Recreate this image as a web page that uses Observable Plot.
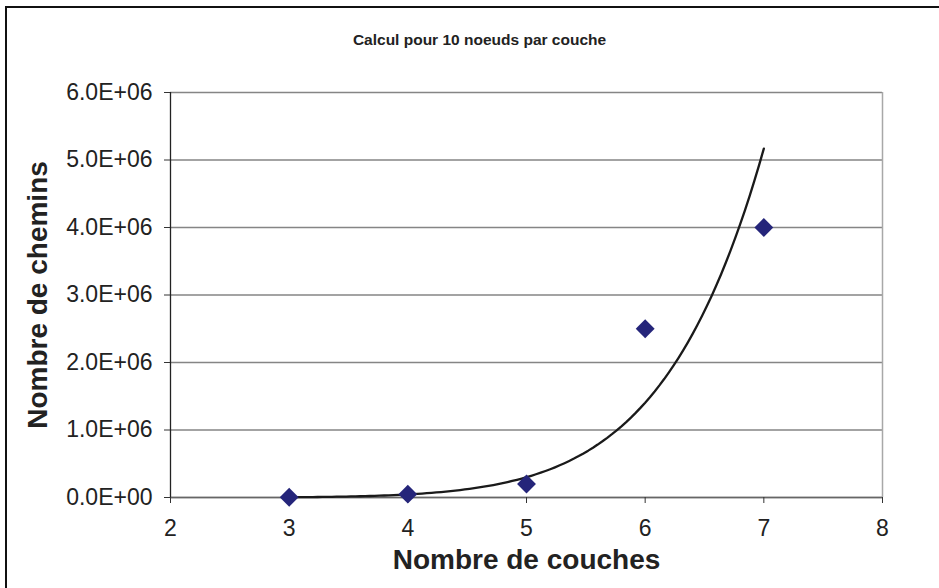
<!DOCTYPE html>
<html>
<head>
<meta charset="utf-8">
<script src="https://cdn.jsdelivr.net/npm/d3@7"></script>
<script src="https://cdn.jsdelivr.net/npm/@observablehq/plot@0.6"></script>
<style>
  html, body { margin: 0; padding: 0; background: #fff; }
  #wrap { position: relative; width: 939px; height: 588px; overflow: hidden; }
  #border { position: absolute; left: 5px; top: 6px; width: 940px; height: 590px;
            border-left: 2px solid #111; border-top: 2px solid #111; }
  #chart { position: absolute; left: 0; top: 0; }
</style>
</head>
<body>
<div id="wrap"><div id="border"></div><div id="chart"></div></div>
<script>
// Data
const couches = [3, 4, 5, 6, 7];
const chemins = [4000, 50000, 200000, 2500000, 4000000];
const xTicks = [2, 3, 4, 5, 6, 7, 8];
const yTicks = [0, 1e6, 2e6, 3e6, 4e6, 5e6, 6e6];
const titleText = "Calcul pour 10 noeuds par couche";
const xLabel = "Nombre de couches";
const yLabel = "Nombre de chemins";

const points = couches.map((c, i) => ({x: c, y: chemins[i]}));

// Power trendline (log-log least squares), as in a spreadsheet trendline
const lx = couches.map(Math.log), ly = chemins.map(Math.log);
const mx = d3.mean(lx), my = d3.mean(ly);
const c = d3.sum(lx, (v, i) => (v - mx) * (ly[i] - my)) / d3.sum(lx, v => (v - mx) ** 2);
const lnA = my - c * mx;
const xMin = d3.min(couches), xMax = d3.max(couches);
const trend = d3.range(0, 101).map(k => {
  const x = xMin + (xMax - xMin) * k / 100;
  return {x, y: Math.exp(lnA + c * Math.log(x))};
});

const fmt = d => d === 0 ? "0.0E+00" : (d / 1e6).toFixed(1) + "E+06";

const chart = Plot.plot({
  width: 939,
  height: 588,
  marginLeft: 170,
  marginRight: 57,
  marginTop: 92,
  marginBottom: 91,
  style: {fontFamily: "'Liberation Sans', Arial, sans-serif", fontSize: "23px", background: "transparent", color: "#222"},
  x: {domain: [2, 8]},
  y: {domain: [0, 6e6]},
  marks: [
    Plot.ruleY(yTicks, {stroke: "#858585", strokeWidth: 1.3}),
    Plot.ruleX([8], {stroke: "#a8a8a8", strokeWidth: 1.5}),
    Plot.ruleY([0], {stroke: "#666", strokeWidth: 1.3}),
    Plot.ruleX([2], {stroke: "#222", strokeWidth: 1.3}),
    Plot.axisY({ticks: yTicks, tickFormat: fmt, tickSize: 6, tickPadding: 12, fontSize: 23, label: null, stroke: "#333"}),
    Plot.axisX({ticks: xTicks, tickFormat: d => String(d), tickSize: 6, tickPadding: 16, fontSize: 23, label: null, stroke: "#333"}),
    Plot.line(trend, {x: "x", y: "y", stroke: "#1a1a1a", strokeWidth: 2.3}),
    Plot.dot(points, {x: "x", y: "y", symbol: "diamond2", r: 8.5, fill: "#25257a", stroke: "none"}),
    Plot.text([titleText], {text: d => d, frameAnchor: "top", dx: -47, dy: -59, fontSize: 15.5, fontWeight: "bold", fill: "#222"}),
    Plot.text([xLabel], {text: d => d, frameAnchor: "bottom", dy: 71, fontSize: 28, fontWeight: "bold", fill: "#222"}),
    Plot.text([yLabel], {text: d => d, frameAnchor: "left", textAnchor: "middle", dx: -132, rotate: -90, fontSize: 28, fontWeight: "bold", fill: "#222"})
  ]
});
document.getElementById("chart").appendChild(chart);
</script>
</body>
</html>
